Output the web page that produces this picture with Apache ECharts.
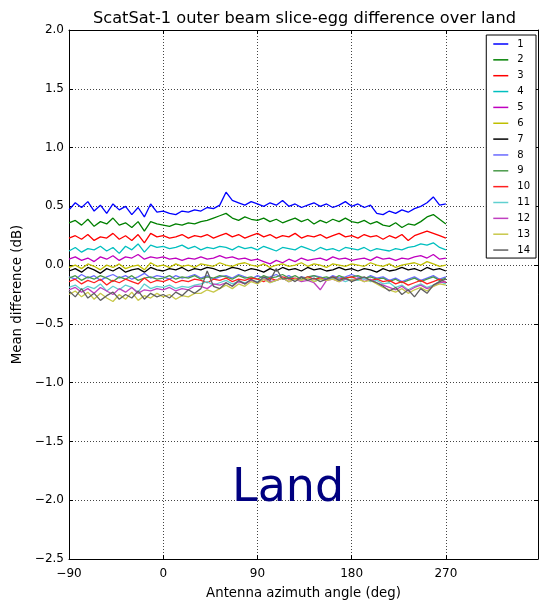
<!DOCTYPE html>
<html>
<head>
<meta charset="utf-8">
<script src="https://cdn.jsdelivr.net/npm/echarts@6/dist/echarts.min.js"></script>
<style>
html,body{margin:0;padding:0;background:#fff;}
#chart{width:540px;height:605px;}
</style>
</head>
<body>
<div id="chart"></div>
<script>
const angles = [-90,-84,-78,-72,-66,-60,-54,-48,-42,-36,
  -30,-24,-18,-12,-6,0,6,12,18,24,
  30,36,42,48,54,60,66,72,78,84,
  90,96,102,108,114,120,126,132,138,144,
  150,156,162,168,174,180,186,192,198,204,
  210,216,222,228,234,240,246,252,258,264,
  270];

const slice1 = [0.47,0.53,0.49,0.54,0.46,0.51,0.44,0.52,0.47,0.50,
  0.43,0.49,0.41,0.52,0.45,0.46,0.44,0.43,0.46,0.45,
  0.47,0.46,0.49,0.48,0.51,0.62,0.55,0.53,0.51,0.54,
  0.52,0.50,0.53,0.51,0.55,0.50,0.52,0.49,0.51,0.53,
  0.50,0.52,0.49,0.51,0.54,0.50,0.52,0.49,0.51,0.44,
  0.43,0.46,0.44,0.47,0.45,0.48,0.50,0.53,0.58,0.51,
  0.52];
const slice2 = [0.36,0.38,0.34,0.39,0.33,0.37,0.35,0.40,0.34,0.36,
  0.32,0.37,0.29,0.37,0.35,0.34,0.33,0.35,0.34,0.36,
  0.35,0.37,0.38,0.40,0.42,0.44,0.40,0.38,0.41,0.39,
  0.38,0.40,0.37,0.39,0.36,0.38,0.40,0.37,0.39,0.35,
  0.38,0.36,0.39,0.37,0.40,0.37,0.36,0.38,0.35,0.37,
  0.34,0.33,0.36,0.32,0.35,0.34,0.37,0.41,0.43,0.39,
  0.35];
const slice3 = [0.23,0.25,0.22,0.26,0.21,0.24,0.23,0.27,0.22,0.25,
  0.21,0.26,0.19,0.27,0.24,0.25,0.23,0.24,0.26,0.23,
  0.25,0.24,0.26,0.23,0.25,0.27,0.24,0.26,0.23,0.25,
  0.27,0.24,0.26,0.23,0.25,0.24,0.27,0.23,0.25,0.24,
  0.26,0.23,0.25,0.27,0.24,0.25,0.23,0.26,0.24,0.25,
  0.22,0.25,0.23,0.26,0.21,0.25,0.27,0.29,0.27,0.25,
  0.23];
const slice4 = [0.12,0.15,0.11,0.14,0.13,0.16,0.12,0.15,0.10,0.16,
  0.13,0.18,0.11,0.17,0.15,0.16,0.14,0.15,0.17,0.14,
  0.16,0.13,0.15,0.14,0.16,0.15,0.13,0.16,0.14,0.15,
  0.13,0.16,0.14,0.12,0.15,0.14,0.13,0.16,0.14,0.12,
  0.15,0.13,0.14,0.12,0.15,0.14,0.13,0.15,0.12,0.14,
  0.13,0.12,0.14,0.13,0.15,0.16,0.18,0.17,0.19,0.15,
  0.13];
const slice5 = [0.05,0.07,0.04,0.06,0.03,0.07,0.05,0.08,0.04,0.07,
  0.06,0.09,0.05,0.07,0.06,0.07,0.05,0.06,0.04,0.06,
  0.05,0.07,0.05,0.06,0.08,0.06,0.07,0.05,0.06,0.04,
  0.05,0.03,0.01,0.04,0.02,0.05,0.03,0.06,0.04,0.05,
  0.06,0.04,0.07,0.05,0.06,0.04,0.05,0.06,0.04,0.07,
  0.05,0.06,0.04,0.06,0.05,0.07,0.08,0.06,0.09,0.05,
  0.06];
const slice6 = [-0.02,0.00,-0.03,0.01,-0.01,-0.04,0.00,-0.02,0.01,-0.03,
  -0.01,0.00,-0.04,0.02,-0.01,0.00,-0.02,0.01,-0.01,0.00,
  -0.02,0.01,0.00,-0.01,0.02,0.00,-0.01,0.01,0.02,0.00,
  -0.01,0.01,-0.02,0.00,0.01,-0.01,0.00,0.02,-0.01,0.01,
  0.00,-0.02,0.01,0.00,-0.01,0.01,0.00,-0.01,0.02,0.00,
  -0.01,0.01,-0.02,0.00,0.01,0.02,0.00,0.03,0.01,-0.01,
  0.00];
const slice7 = [-0.05,-0.03,-0.06,-0.02,-0.04,-0.07,-0.03,-0.05,-0.02,-0.06,
  -0.04,-0.03,-0.06,-0.02,-0.04,-0.05,-0.03,-0.04,-0.02,-0.05,
  -0.03,-0.04,-0.02,-0.03,-0.05,-0.04,-0.02,-0.03,-0.05,-0.03,
  -0.04,-0.06,-0.03,-0.05,-0.02,-0.04,-0.03,-0.05,-0.02,-0.04,
  -0.03,-0.05,-0.04,-0.02,-0.04,-0.03,-0.05,-0.03,-0.04,-0.06,
  -0.03,-0.05,-0.04,-0.02,-0.04,-0.03,-0.05,-0.02,-0.04,-0.03,
  -0.05];
const slice8 = [-0.10,-0.12,-0.08,-0.11,-0.09,-0.13,-0.10,-0.08,-0.11,-0.09,
  -0.12,-0.10,-0.07,-0.11,-0.09,-0.10,-0.12,-0.09,-0.11,-0.10,
  -0.08,-0.11,-0.09,-0.12,-0.10,-0.09,-0.11,-0.08,-0.10,-0.12,
  -0.09,-0.11,-0.10,-0.08,-0.11,-0.09,-0.12,-0.10,-0.11,-0.09,
  -0.10,-0.12,-0.09,-0.11,-0.10,-0.08,-0.10,-0.12,-0.09,-0.11,
  -0.10,-0.13,-0.11,-0.14,-0.12,-0.10,-0.13,-0.11,-0.09,-0.12,
  -0.10];
const slice9 = [-0.11,-0.09,-0.13,-0.10,-0.12,-0.09,-0.11,-0.14,-0.10,-0.12,
  -0.09,-0.13,-0.11,-0.10,-0.12,-0.11,-0.09,-0.12,-0.10,-0.11,
  -0.09,-0.12,-0.10,-0.11,-0.09,-0.10,-0.12,-0.09,-0.11,-0.10,
  -0.12,-0.09,-0.11,-0.10,-0.08,-0.11,-0.09,-0.12,-0.10,-0.09,
  -0.11,-0.10,-0.12,-0.09,-0.11,-0.10,-0.09,-0.11,-0.10,-0.12,
  -0.11,-0.14,-0.12,-0.15,-0.13,-0.11,-0.14,-0.12,-0.10,-0.13,
  -0.11];
const slice10 = [-0.14,-0.12,-0.16,-0.13,-0.15,-0.12,-0.17,-0.13,-0.15,-0.12,
  -0.14,-0.16,-0.11,-0.15,-0.13,-0.14,-0.12,-0.15,-0.13,-0.14,
  -0.12,-0.13,-0.15,-0.12,-0.13,-0.11,-0.14,-0.12,-0.13,-0.11,
  -0.12,-0.14,-0.11,-0.13,-0.10,-0.12,-0.11,-0.13,-0.10,-0.12,
  -0.11,-0.13,-0.10,-0.12,-0.11,-0.10,-0.12,-0.11,-0.13,-0.12,
  -0.14,-0.13,-0.16,-0.14,-0.17,-0.15,-0.13,-0.16,-0.14,-0.12,
  -0.15];
const slice11 = [-0.19,-0.17,-0.21,-0.18,-0.20,-0.16,-0.22,-0.18,-0.21,-0.17,
  -0.19,-0.23,-0.16,-0.20,-0.18,-0.19,-0.17,-0.20,-0.18,-0.19,
  -0.17,-0.16,-0.14,-0.17,-0.15,-0.13,-0.16,-0.14,-0.15,-0.13,
  -0.14,-0.12,-0.15,-0.13,-0.11,-0.14,-0.12,-0.13,-0.11,-0.14,
  -0.12,-0.13,-0.11,-0.12,-0.14,-0.12,-0.13,-0.11,-0.14,-0.13,
  -0.16,-0.15,-0.19,-0.17,-0.21,-0.18,-0.16,-0.19,-0.17,-0.14,
  -0.16];
const slice12 = [-0.21,-0.19,-0.23,-0.20,-0.24,-0.19,-0.22,-0.25,-0.20,-0.23,
  -0.19,-0.24,-0.21,-0.22,-0.20,-0.21,-0.19,-0.22,-0.20,-0.21,
  -0.18,-0.18,-0.20,-0.16,-0.17,-0.15,-0.18,-0.14,-0.16,-0.13,
  -0.15,-0.12,-0.14,-0.13,-0.11,-0.14,-0.12,-0.14,-0.13,-0.15,
  -0.21,-0.13,-0.12,-0.14,-0.12,-0.13,-0.11,-0.14,-0.12,-0.15,
  -0.17,-0.19,-0.21,-0.18,-0.22,-0.19,-0.17,-0.20,-0.18,-0.15,
  -0.14];
const slice13 = [-0.25,-0.22,-0.27,-0.23,-0.29,-0.24,-0.28,-0.31,-0.25,-0.29,
  -0.23,-0.30,-0.26,-0.28,-0.24,-0.27,-0.25,-0.29,-0.26,-0.27,
  -0.24,-0.24,-0.21,-0.23,-0.20,-0.17,-0.20,-0.16,-0.18,-0.14,
  -0.16,-0.12,-0.15,-0.13,-0.11,-0.14,-0.12,-0.13,-0.11,-0.14,
  -0.12,-0.13,-0.12,-0.14,-0.11,-0.13,-0.12,-0.14,-0.13,-0.16,
  -0.19,-0.21,-0.23,-0.20,-0.24,-0.21,-0.19,-0.22,-0.18,-0.16,
  -0.17];
const slice14 = [-0.22,-0.27,-0.20,-0.28,-0.24,-0.30,-0.26,-0.23,-0.29,-0.25,
  -0.28,-0.22,-0.29,-0.24,-0.27,-0.25,-0.28,-0.23,-0.26,-0.21,
  -0.24,-0.20,-0.05,-0.18,-0.20,-0.15,-0.18,-0.13,-0.16,-0.12,
  -0.15,-0.10,-0.13,-0.03,-0.12,-0.11,-0.14,-0.10,-0.13,-0.11,
  -0.14,-0.12,-0.10,-0.13,-0.11,-0.14,-0.12,-0.10,-0.13,-0.15,
  -0.18,-0.22,-0.19,-0.25,-0.21,-0.27,-0.20,-0.24,-0.17,-0.14,
  -0.12];

const seriesNames = ['1','2','3','4','5','6','7','8','9','10','11','12','13','14'];
const seriesValues = [slice1,slice2,slice3,slice4,slice5,slice6,slice7,
  slice8,slice9,slice10,slice11,slice12,slice13,slice14];
const colors = ['#0000ff','#008000','#ff0000','#00bfbf','#bf00bf','#bfbf00','#000000',
  '#6a6aff','#4a9a4a','#ff2020','#60d0d0','#c040c0','#c8c84a','#606060'];

const yTicks = { min: -2.5, max: 2.0, interval: 0.5 };
const xTicks = { min: -90, max: 358, interval: 90 };

const FONT = 'DejaVu Sans';
const fmtMinus = s => String(s).replace('-', '\u2212');

const chart = echarts.init(document.getElementById('chart'), null, {renderer: 'canvas'});

const baseAxisLine = { show: true, onZero: false, lineStyle: { color: '#000', width: 1 } };
const tick = { show: true, inside: true, length: 4, lineStyle: { color: '#000', width: 1 } };
const gridLine = { show: true, lineStyle: { color: '#444', width: 1, type: [1, 2] } };

const option = {
  animation: false,
  backgroundColor: '#fff',
  color: colors,
  grid: { left: 69, right: 2, top: 30, bottom: 40, containLabel: false },
  legend: {
    orient: 'vertical',
    right: 4,
    top: 35,
    padding: [3, 6, 2, 7],
    itemGap: 3.85,
    itemWidth: 15,
    itemHeight: 1.5,
    icon: 'rect',
    backgroundColor: '#fff',
    borderColor: '#000',
    borderWidth: 1,
    borderRadius: 0,
    z: 20,
    data: seriesNames,
    textStyle: { fontFamily: FONT, fontSize: 10, color: '#000', lineHeight: 12, padding: [0, 0, 0, 4] }
  },
  xAxis: [
    {
      type: 'value', position: 'bottom',
      min: xTicks.min, max: xTicks.max, interval: xTicks.interval,
      name: 'Antenna azimuth angle (deg)', nameLocation: 'middle', nameGap: 28,
      nameTextStyle: { fontFamily: FONT, fontSize: 13.3, color: '#000' },
      axisLine: baseAxisLine, axisTick: tick,
      axisLabel: { fontFamily: FONT, fontSize: 12, color: '#000', margin: 9,
        showMaxLabel: false, formatter: v => fmtMinus(v) },
      splitLine: gridLine
    },
    {
      type: 'value', position: 'top',
      min: xTicks.min, max: xTicks.max, interval: xTicks.interval,
      axisLine: baseAxisLine, axisTick: tick,
      axisLabel: { show: false }, splitLine: { show: false }
    }
  ],
  yAxis: [
    {
      type: 'value', position: 'left',
      min: yTicks.min, max: yTicks.max, interval: yTicks.interval,
      name: 'Mean difference (dB)', nameLocation: 'middle', nameGap: 44, nameRotate: 90,
      nameTextStyle: { fontFamily: FONT, fontSize: 13.3, color: '#000' },
      axisLine: baseAxisLine, axisTick: tick,
      axisLabel: { fontFamily: FONT, fontSize: 12, color: '#000', margin: 5,
        formatter: v => fmtMinus(v.toFixed(1)) },
      splitLine: gridLine
    },
    {
      type: 'value', position: 'right',
      min: yTicks.min, max: yTicks.max, interval: yTicks.interval,
      axisLine: baseAxisLine, axisTick: tick,
      axisLabel: { show: false }, splitLine: { show: false }
    }
  ],
  graphic: [
    {
      type: 'text',
      x: 304.5, y: 19,
      z: 10,
      style: { text: 'ScatSat-1 outer beam slice-egg difference over land',
        fontFamily: FONT, fontSize: 16.2, fill: '#000', align: 'center', verticalAlign: 'middle' }
    },
    {
      type: 'text',
      left: 232, top: 466,
      z: 10,
      style: { text: 'Land', fontFamily: FONT, fontSize: 46, fill: '#000080' }
    }
  ],
  series: seriesValues.map((vals, k) => ({
    name: seriesNames[k],
    type: 'line',
    xAxisIndex: 0,
    yAxisIndex: 0,
    showSymbol: false,
    symbol: 'none',
    lineStyle: { width: 1.3, color: colors[k] },
    itemStyle: { color: colors[k] },
    emphasis: { disabled: true },
    data: angles.map((a, i) => [a, vals[i]])
  }))
};
chart.setOption(option);
</script>
</body>
</html>
